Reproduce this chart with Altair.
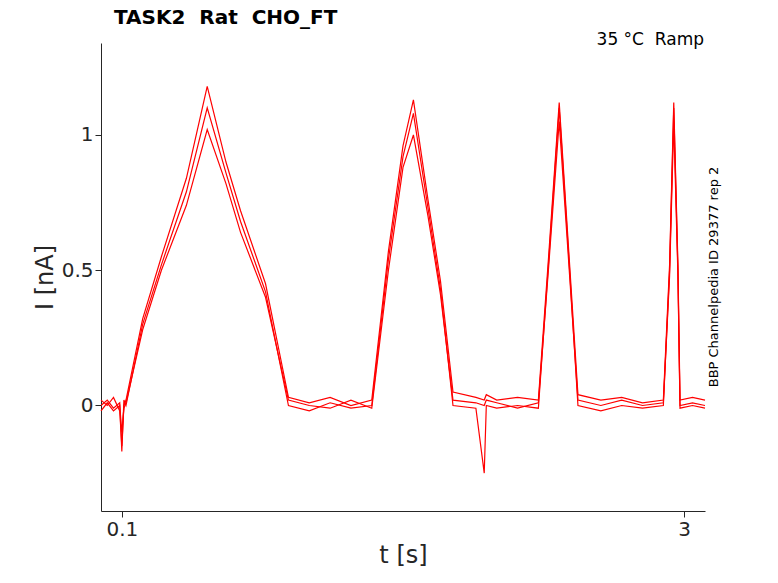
import altair as alt
import pandas as pd

t = [0, 0.03, 0.06, 0.09, 0.1, 0.11, 0.12, 0.2, 0.29, 0.41, 0.51, 0.6, 0.67, 0.79, 0.9,
     1.0, 1.1, 1.2, 1.3, 1.38, 1.45, 1.5, 1.57, 1.63, 1.69, 1.8, 1.84, 1.85, 1.9, 2.0,
     2.1, 2.15, 2.2, 2.25, 2.29, 2.4, 2.5, 2.6, 2.7, 2.73, 2.75, 2.77, 2.78, 2.84, 2.9]
sweep_a = [0.02, 0.0, 0.03, -0.02, -0.15, 0.0, 0.02, 0.32, 0.55, 0.84, 1.18, 0.9, 0.72, 0.45, 0.03,
           0.01, 0.03, 0.0, 0.02, 0.57, 0.96, 1.13, 0.76, 0.46, 0.05, 0.03, 0.02, 0.04, 0.02, 0.03,
           0.02, 0.56, 1.12, 0.52, 0.04, 0.02, 0.03, 0.01, 0.02, 0.52, 1.12, 0.52, 0.02, 0.03, 0.02]
sweep_b = [0.0, 0.02, -0.01, 0.01, -0.17, 0.02, 0.0, 0.3, 0.52, 0.79, 1.1, 0.86, 0.68, 0.42, 0.0,
           -0.02, 0.01, -0.01, 0.0, 0.54, 0.92, 1.08, 0.73, 0.43, 0.0, -0.01, -0.25, 0.0, -0.01, 0.0,
           -0.01, 0.54, 1.1, 0.5, 0.0, -0.02, 0.0, -0.01, 0.0, 0.5, 1.1, 0.5, -0.01, 0.0, -0.01]
sweep_c = [-0.02, 0.01, -0.02, 0.0, -0.1, -0.01, 0.01, 0.28, 0.5, 0.74, 1.02, 0.82, 0.64, 0.4, 0.02,
           0.0, -0.01, 0.02, -0.01, 0.5, 0.88, 1.0, 0.7, 0.41, 0.02, 0.01, 0.0, 0.02, 0.01, -0.01,
           0.01, 0.52, 1.05, 0.48, 0.02, 0.0, 0.02, 0.0, 0.01, 0.48, 1.05, 0.48, 0.0, 0.01, 0.0]

rows = []
for name, vals in [("a", sweep_a), ("b", sweep_b), ("c", sweep_c)]:
    for ti, v in zip(t, vals):
        rows.append({"t": ti, "I": v, "sweep": name})
df = pd.DataFrame(rows)

lines = alt.Chart(df).mark_line(color="#ff0000", strokeWidth=1.2).encode(
    x=alt.X("t:Q", scale=alt.Scale(domain=[0, 2.9], nice=False),
            axis=alt.Axis(values=[0.1, 2.8], format="~g", title="t [s]", grid=False)),
    y=alt.Y("I:Q", scale=alt.Scale(domain=[-0.39, 1.34], nice=False),
            axis=alt.Axis(values=[0, 0.5, 1], format="~g", title="I [nA]", grid=False)),
    detail="sweep:N",
)

title = alt.Chart(pd.DataFrame({"s": ["TASK2\u00a0\u00a0Rat\u00a0\u00a0CHO_FT"]})).mark_text(
    align="left", baseline="middle", fontSize=20, font="DejaVu Sans", fontWeight="bold", color="black"
).encode(x=alt.value(13), y=alt.value(-25), text="s:N")

ramp = alt.Chart(pd.DataFrame({"s": ["35 °C\u00a0\u00a0Ramp"]})).mark_text(
    align="right", baseline="middle", fontSize=17, font="DejaVu Sans", color="black"
).encode(x=alt.value(603), y=alt.value(-3), text="s:N")

side = alt.Chart(pd.DataFrame({"s": ["BBP Channelpedia ID 29377 rep 2"]})).mark_text(
    angle=270, align="center", baseline="middle", fontSize=13, font="DejaVu Sans", color="black"
).encode(x=alt.value(613), y=alt.value(234), text="s:N")

chart = (lines + title + ramp + side).properties(
    width=604, height=468,
    autosize=alt.AutoSizeParams(type="none"),
    padding={"left": 93, "top": 35, "right": 60, "bottom": 64},
).configure_view(stroke=None).configure_axis(
    labelFont="DejaVu Sans", titleFont="DejaVu Sans", labelFontSize=20, titleFontSize=24,
    titleFontWeight="normal", labelColor="#262626", titleColor="#262626",
    domainColor="#262626", tickColor="#262626", tickSize=6,
)

chart.save("out.html", embed_options={"renderer": "svg", "actions": False})
